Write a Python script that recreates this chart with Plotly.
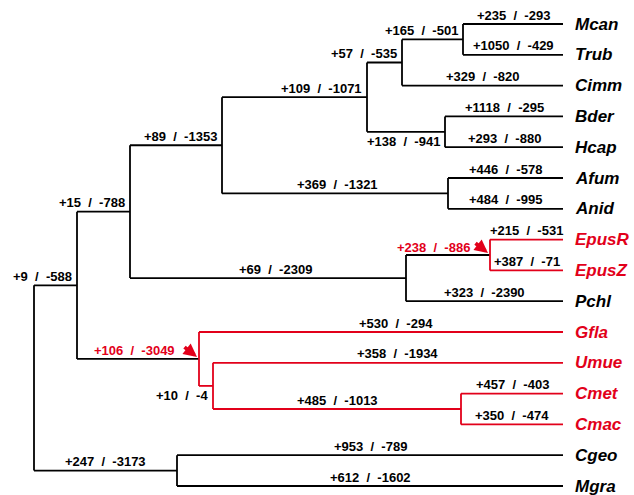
import plotly.graph_objects as go

# ---------------- data ----------------
leaves = ["Mcan", "Trub", "Cimm", "Bder", "Hcap", "Afum", "Anid", "EpusR",
          "EpusZ", "Pchl", "Gfla", "Umue", "Cmet", "Cmac", "Cgeo", "Mgra"]

internal = ["root", "A", "B", "C", "D", "E", "F", "BH", "AA", "P", "EP",
            "G", "U", "CC", "CM"]

children = {
    "root": ["A", "CM"],
    "A": ["B", "G"],
    "B": ["C", "P"],
    "C": ["D", "AA"],
    "D": ["E", "BH"],
    "E": ["F", "Cimm"],
    "F": ["Mcan", "Trub"],
    "BH": ["Bder", "Hcap"],
    "AA": ["Afum", "Anid"],
    "P": ["EP", "Pchl"],
    "EP": ["EpusR", "EpusZ"],
    "G": ["Gfla", "U"],
    "U": ["Umue", "CC"],
    "CC": ["Cmet", "Cmac"],
    "CM": ["Cgeo", "Mgra"],
}

gains = {
    "A": 9, "B": 15, "C": 89, "D": 109, "E": 57, "F": 165, "BH": 138,
    "AA": 369, "P": 69, "EP": 238, "G": 106, "U": 10, "CC": 485, "CM": 247,
    "Mcan": 235, "Trub": 1050, "Cimm": 329, "Bder": 1118, "Hcap": 293,
    "Afum": 446, "Anid": 484, "EpusR": 215, "EpusZ": 387, "Pchl": 323,
    "Gfla": 530, "Umue": 358, "Cmet": 457, "Cmac": 350, "Cgeo": 953,
    "Mgra": 612,
}
losses = {
    "A": 588, "B": 788, "C": 1353, "D": 1071, "E": 535, "F": 501, "BH": 941,
    "AA": 1321, "P": 2309, "EP": 886, "G": 3049, "U": 4, "CC": 1013,
    "CM": 3173,
    "Mcan": 293, "Trub": 429, "Cimm": 820, "Bder": 295, "Hcap": 880,
    "Afum": 578, "Anid": 995, "EpusR": 531, "EpusZ": 71, "Pchl": 2390,
    "Gfla": 294, "Umue": 1934, "Cmet": 403, "Cmac": 474, "Cgeo": 789,
    "Mgra": 1602,
}

highlighted = ["EP", "G"]

# ---------------- layout of the tree (drawing positions) ----------------
node_x = {"root": 34, "A": 77, "B": 130, "C": 222, "D": 367, "E": 402,
          "F": 463, "BH": 445, "AA": 448, "P": 406, "EP": 490, "G": 199,
          "U": 213, "CC": 461, "CM": 177}
LEAF_X = 563

placement = {"A": "right", "B": "right", "C": "right", "D": "right",
             "E": "right", "F": "right", "BH": "below", "U": "below",
             "EP": "arrow", "G": "arrow"}
center_offset = {"P": 7, "Gfla": 15, "Umue": 9, "AA": 2}
arrow_gap = {"EP": 18, "G": 22}

RED = "#e2001a"
BLACK = "#000000"

W, H = 634, 495
ROW0, ROW = 24, 30.8

parent = {c: p for p, cs in children.items() for c in cs}
for l in leaves:
    node_x[l] = LEAF_X

ypos = {l: i for i, l in enumerate(leaves)}


def get_y(n):
    if n in ypos:
        return ypos[n]
    cs = children[n]
    ypos[n] = (get_y(cs[0]) + get_y(cs[-1])) / 2
    return ypos[n]


get_y("root")

red = set()


def mark(n):
    red.add(n)
    for c in children.get(n, []):
        mark(c)


for h in highlighted:
    mark(h)

seg = {BLACK: ([], []), RED: ([], [])}
for n in internal:
    col = RED if n in red else BLACK
    cs = children[n]
    xs, ys = seg[col]
    xs += [node_x[n], node_x[n], None]
    ys += [get_y(cs[0]), get_y(cs[-1]), None]
    for c in cs:
        xs += [node_x[n], node_x[c], None]
        ys += [get_y(c), get_y(c), None]

fig = go.Figure()
for col, (xs, ys) in seg.items():
    fig.add_trace(go.Scatter(x=xs, y=ys, mode="lines",
                             line=dict(color=col, width=1.8),
                             hoverinfo="skip", showlegend=False))

FONT = "Arial, 'Liberation Sans', sans-serif"
SEP = "\u00a0\u00a0/\u00a0\u00a0"

anns = []
for n in list(internal[1:]) + leaves:
    txt = f"+{gains[n]}{SEP}-{losses[n]}"
    mode = placement.get(n, "center")
    y = get_y(n)
    color = BLACK
    if mode == "right":
        a = dict(x=node_x[n], xanchor="right", xshift=-3, yshift=9)
    elif mode == "below":
        a = dict(x=node_x[n], xanchor="right", xshift=-3, yshift=-10)
    elif mode == "arrow":
        color = RED
        a = dict(x=node_x[n], xanchor="right", xshift=-arrow_gap[n], yshift=8)
        anns.append(dict(x=node_x[n], y=y, xref="x", yref="y", text="",
                         showarrow=True, arrowhead=2, arrowsize=0.7,
                         arrowwidth=3.8, arrowcolor=RED, ax=-14, ay=-11,
                         xshift=-2, yshift=2, standoff=0))
    else:
        cx = (node_x[parent[n]] + node_x[n]) / 2 + center_offset.get(n, 0)
        a = dict(x=cx, xanchor="center", yshift=9)
    a.update(y=y, yanchor="middle", xref="x", yref="y", text=txt,
             showarrow=False,
             font=dict(family=FONT, size=13, color=color, weight="bold"))
    anns.append(a)

for l in leaves:
    anns.append(dict(x=LEAF_X + 10, y=get_y(l), xref="x", yref="y", text=l,
                     xanchor="left", yanchor="middle", showarrow=False,
                     font=dict(family=FONT, size=17,
                               color=RED if l in red else BLACK,
                               weight="bold", style="italic")))

fig.update_layout(
    width=W, height=H,
    margin=dict(l=0, r=0, t=0, b=0),
    paper_bgcolor="white", plot_bgcolor="white",
    xaxis=dict(range=[0, W], visible=False, fixedrange=True),
    yaxis=dict(range=[(H - ROW0) / ROW, (0 - ROW0) / ROW], visible=False,
               fixedrange=True),
    annotations=anns,
    showlegend=False,
)

fig.write_html(
    "out.html",
    config={"displayModeBar": False},
    post_script="document.body.style.margin='0';"
                "document.body.style.overflow='hidden';",
)
